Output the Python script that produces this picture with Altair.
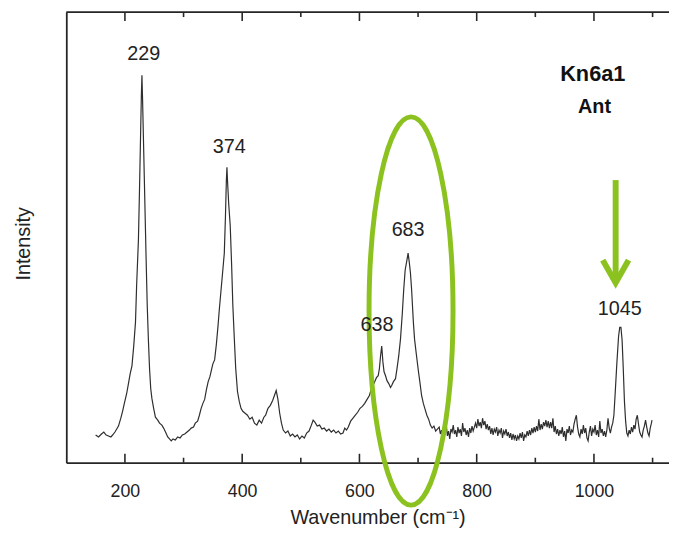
import altair as alt
import pandas as pd

# ---- spectrum, in three stretches ----
wn_peaks = [150, 155, 160, 164, 168, 172, 176, 179, 183, 186, 189, 193, 196, 199, 203, 206, 209, 212, 215, 218,
            220, 223, 225, 226.5, 228, 229, 230, 231.5, 233, 234.5, 236, 238, 240, 242, 244, 246, 249, 252, 256, 259,
            263, 266, 270, 273, 276, 279, 282, 286, 290, 294, 298, 302, 306, 310, 313, 317, 320, 324, 327, 330,
            333, 336, 339, 342, 345, 348, 350, 353, 356, 359, 361, 364, 367, 369.5, 371.5, 373, 374, 375, 377, 379.6,
            382, 384, 386.4, 389, 392, 395, 398, 401, 405, 409, 413, 417, 421, 425, 429, 433, 437, 440, 444, 448,
            452, 455, 458, 461, 464, 467, 470, 474, 478, 482, 486, 490, 494, 498, 502, 506, 510, 514, 518, 521,
            524, 528, 532, 536, 540, 544, 548, 552, 556, 560, 564, 568, 572, 575, 578, 581, 585, 589, 593, 597,
            601, 605, 609, 613, 617, 620, 623, 626, 629, 632, 634, 636, 638, 640, 642, 644.5, 647, 650, 653, 655,
            658, 661.5, 664, 667, 670, 673, 675.5, 678, 681, 683, 685, 687, 689, 692, 694, 697, 700.7, 703, 706, 709,
            712, 715, 718, 721, 724, 727, 730, 733]
int_peaks = [28, 26, 29, 31, 28, 27, 26, 28, 31, 34, 37, 45, 52, 60, 70, 80, 90, 98, 118, 142,
             180, 225, 280, 325, 370, 392, 370, 330, 290, 250, 210, 160, 125, 95, 75, 65, 55, 46, 43, 40,
             38, 35, 30, 26, 24, 22, 24, 23, 26, 25, 28, 29, 31, 33, 35, 36, 40, 42, 48, 55,
             60, 64, 74, 82, 87, 95, 100, 104, 120, 140, 155, 175, 195, 212, 250, 285, 299, 285, 262, 240,
             200, 160, 128, 95, 72, 62, 55, 52, 50, 48, 44, 46, 40, 38, 43, 40, 46, 48, 55, 58,
             63, 68, 73, 64, 50, 40, 33, 30, 32, 27, 29, 26, 28, 24, 27, 25, 30, 32, 38, 43,
             41, 37, 38, 34, 35, 32, 34, 31, 33, 30, 32, 29, 30, 35, 33, 36, 42, 45, 48, 51,
             55, 57, 60, 64, 68, 74, 78, 82, 86, 88, 95, 108, 118, 102, 92, 88, 83, 80, 76, 78,
             82, 85, 95, 108, 125, 150, 175, 195, 205, 212, 203, 192, 175, 142, 125, 110, 92, 82, 68, 60,
             54, 48, 44, 38, 35, 37, 32, 34]

wn_noise = [736, 738, 740, 742, 744, 746, 748, 750, 752, 754, 756, 758, 760, 762, 764, 766, 768, 770, 772, 774,
            776, 778, 780, 782, 784, 786, 788, 790, 792, 794, 796, 798, 800, 802, 804, 806, 808, 810, 812, 814,
            816, 818, 820, 822, 824, 826, 828, 830, 832, 834, 836, 838, 840, 842, 844, 846, 848, 850, 852, 854,
            856, 858, 860, 862, 864, 866, 868, 870, 872, 874, 876, 878, 880, 882, 884, 886, 888, 890, 892, 894,
            896, 898, 900, 902, 904, 906, 908, 910, 912, 914, 916, 918, 920, 922, 924, 926, 928, 930, 932, 934,
            936, 938, 940, 942, 944, 946, 948, 950, 952, 954, 956, 958, 960, 962, 964, 966, 968, 970, 972, 974,
            976, 978, 980, 982, 984, 986, 988, 990, 992, 994, 996, 998, 1000, 1002, 1004, 1006, 1008, 1010, 1012, 1014,
            1016, 1018, 1020, 1022, 1024, 1026, 1028, 1030, 1032]
int_noise = [36, 29, 33, 25, 35, 30, 39, 27, 32, 24, 34, 31, 38, 29, 33, 26, 36, 30, 34, 27,
             40, 31, 35, 28, 33, 26, 35, 30, 37, 32, 36, 40, 35, 44, 37, 41, 35, 45, 38, 42,
             34, 39, 33, 37, 29, 35, 28, 34, 31, 36, 27, 33, 30, 35, 25, 32, 29, 34, 27, 31,
             25, 30, 23, 29, 24, 28, 22, 27, 24, 30, 25, 31, 22, 28, 26, 32, 27, 33, 28, 35,
             30, 36, 31, 37, 32, 44, 33, 39, 34, 41, 37, 43, 36, 42, 35, 41, 35, 45, 31, 37,
             29, 34, 27, 33, 29, 36, 26, 32, 22, 34, 30, 37, 28, 33, 31, 39, 44, 48, 36, 29,
             26, 34, 29, 38, 30, 35, 25, 22, 31, 37, 27, 34, 31, 38, 28, 33, 26, 42, 30, 34,
             27, 32, 26, 33, 45, 35, 30, 36, 40]

wn_tail = [1034, 1036, 1039, 1042, 1044, 1046, 1048, 1050, 1052, 1054, 1056, 1058, 1060, 1062, 1064, 1066, 1068,
           1070, 1072, 1074, 1076, 1078, 1080, 1082, 1084, 1086, 1088, 1090, 1092, 1094, 1096, 1098, 1099]
int_tail = [48, 68, 100, 128, 137, 137, 124, 95, 62, 42, 30, 27, 33, 29, 36, 31, 38, 34, 44, 48,
            39, 31, 28, 26, 33, 37, 43, 36, 30, 27, 35, 40, 43]

wavenumber = wn_peaks + wn_noise + wn_tail
intensity = int_peaks + int_noise + int_tail

# ---- peak labels ----
peak_text = ["229", "374", "638", "683", "1045"]
peak_label_x = [232, 378, 630, 683, 1044]
peak_label_y = [414, 319, 139, 235, 155]

# ---- sample name ----
sample_text = ["Kn6a1", "Ant"]
sample_x = [998, 1001]
sample_y = [393, 360]
sample_size = [22, 20]

# ---- axis ticks ----
major_ticks = [200, 400, 600, 800, 1000]
minor_ticks = [300, 500, 700, 900, 1100]

# ---- green annotations ----
ellipse_center_x = [688]
ellipse_center_y = [153.5]
arrow_shaft_x = [1037, 1037]
arrow_shaft_y = [286, 186]
arrow_head_x = [1015, 1037, 1059]
arrow_head_y = [205, 182, 205]

GREEN = "#8cc21f"
INK = "#262626"
FONT = "Liberation Sans"
W, H = 610, 456

xs = alt.Scale(domain=[100, 1128], nice=False, zero=False)
ys = alt.Scale(domain=[0, 456], nice=False, zero=False)

XAXIS = alt.Axis(
    values=major_ticks, format="d", ticks=False, grid=False, domain=True, domainColor=INK, domainWidth=1.8,
    labelFont=FONT, labelFontSize=18, labelColor="#222222", labelPadding=20,
    title="Wavenumber (cm⁻¹)", titleFont=FONT, titleFontSize=20, titleFontWeight="normal",
    titleColor="#222222", titlePadding=8, titleX=315)
YAXIS = alt.Axis(
    ticks=False, labels=False, grid=False, domain=True, domainColor=INK, domainWidth=1.8,
    title="Intensity", titleFont=FONT, titleFontSize=20, titleFontWeight="normal",
    titleColor="#222222", titlePadding=33, titleY=234)


def X(field):
    return alt.X(field, scale=xs, axis=XAXIS)


def Y(field):
    return alt.Y(field, scale=ys, axis=YAXIS)


spec_df = pd.DataFrame({"wn": wavenumber, "I": intensity})
spectrum = alt.Chart(spec_df).mark_line(color="#2e2e2e", strokeWidth=1.2).encode(
    x=X("wn:Q"), y=Y("I:Q"))

lab_df = pd.DataFrame({"wn": peak_label_x, "I": peak_label_y, "t": peak_text})
labels = alt.Chart(lab_df).mark_text(font=FONT, fontSize=20, color="#222222", baseline="middle", align="center").encode(
    x=X("wn:Q"), y=Y("I:Q"), text="t:N")

samp_df = pd.DataFrame({"wn": sample_x, "I": sample_y, "t": sample_text, "s": sample_size})
sample = alt.Chart(samp_df).mark_text(font=FONT, fontWeight="bold", color="#111111", baseline="middle", align="center").encode(
    x=X("wn:Q"), y=Y("I:Q"), text="t:N",
    size=alt.Size("s:Q", scale=None, legend=None))

maj_df = pd.DataFrame({"wn": major_ticks})
min_df = pd.DataFrame({"wn": minor_ticks})
tick_layers = []
for df, ln in ((maj_df, 9), (min_df, 5)):
    tick_layers.append(alt.Chart(df).mark_rule(color=INK, strokeWidth=1.6).encode(
        x=X("wn:Q"), y=alt.value(H), y2=alt.value(H - ln)))
    tick_layers.append(alt.Chart(df).mark_rule(color=INK, strokeWidth=1.6).encode(
        x=X("wn:Q"), y=alt.value(0), y2=alt.value(ln)))

top_frame = alt.Chart(pd.DataFrame({"a": [0]})).mark_rule(color=INK, strokeWidth=1.8).encode(
    x=alt.value(0), x2=alt.value(W), y=alt.value(0))

a = 42.5 / 196.5
k = 0.5523
ellipse_path = (f"M 0,-1 C {a*k:.4f},-1 {a:.4f},{-k} {a:.4f},0 "
                f"C {a:.4f},{k} {a*k:.4f},1 0,1 "
                f"C {-a*k:.4f},1 {-a:.4f},{k} {-a:.4f},0 "
                f"C {-a:.4f},{-k} {-a*k:.4f},-1 0,-1 Z")
ell_df = pd.DataFrame({"wn": ellipse_center_x, "I": ellipse_center_y})
ellipse = alt.Chart(ell_df).mark_point(shape=ellipse_path, filled=False, stroke=GREEN, strokeWidth=5,
                                       opacity=1, size=393 * 393).encode(
    x=X("wn:Q"), y=Y("I:Q"))

shaft_df = pd.DataFrame({"wn": arrow_shaft_x, "I": arrow_shaft_y, "o": [0, 1]})
shaft = alt.Chart(shaft_df).mark_line(color=GREEN, strokeWidth=6, strokeCap="butt").encode(
    x=X("wn:Q"), y=Y("I:Q"), order="o:Q")

head_df = pd.DataFrame({"wn": arrow_head_x, "I": arrow_head_y, "o": [0, 1, 2]})
head = alt.Chart(head_df).mark_line(color=GREEN, strokeWidth=6, strokeCap="butt", strokeJoin="miter").encode(
    x=X("wn:Q"), y=Y("I:Q"), order="o:Q")

chart = alt.layer(spectrum, *tick_layers, top_frame, ellipse, shaft, head, labels, sample).properties(
    width=W, height=H,
    autosize=alt.AutoSizeParams(type="none"),
    padding={"left": 59, "top": 1, "right": 0, "bottom": 66},
    background="white",
).configure_view(stroke=None)

chart.save("out.html", embed_options={"renderer": "svg", "actions": False})
